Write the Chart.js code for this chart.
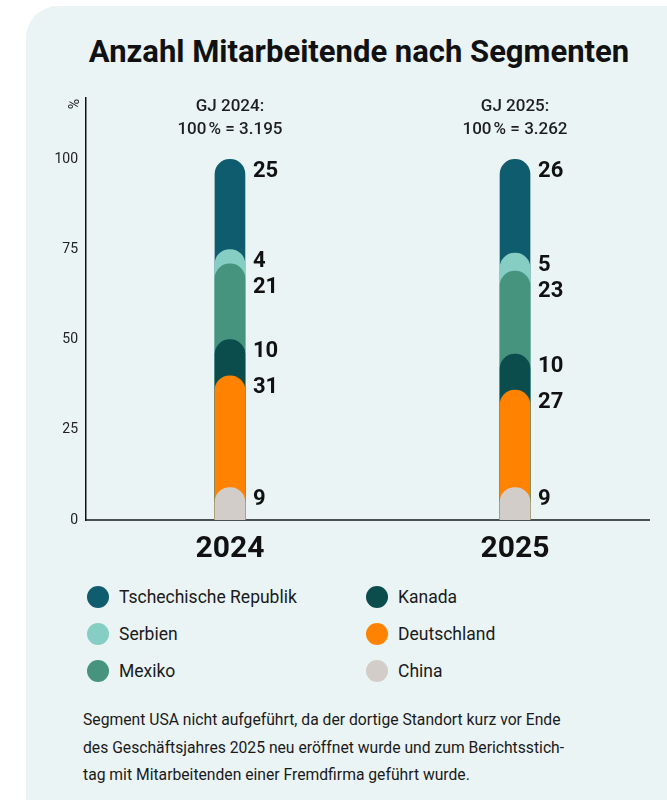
<!DOCTYPE html>
<html>
<head>
<meta charset="utf-8">
<script src="https://cdn.jsdelivr.net/npm/chart.js@4.4.1/dist/chart.umd.min.js"></script>
<style>
html,body{margin:0;padding:0;background:#fff;width:667px;height:800px;overflow:hidden;font-family:Roboto,"Open Sans",sans-serif;}
#card{position:absolute;left:26px;top:6px;width:680px;height:830px;border-radius:32px;background:#EAF4F5;}
#title{position:absolute;left:0;width:718px;top:32px;text-align:center;font:700 31px Roboto,sans-serif;color:#111;line-height:40px;white-space:nowrap;}
#wrap{position:absolute;left:0;top:0;width:667px;height:575px;}
.item{position:absolute;display:flex;align-items:center;font:400 17.5px Roboto,sans-serif;color:#1a1a1a;height:22px;white-space:nowrap;}
.dot{width:22px;height:22px;border-radius:50%;margin-right:10px;flex:none;}
#note{position:absolute;left:83px;top:706px;font:400 15.7px/27.7px Roboto,sans-serif;color:#1a1a1a;white-space:nowrap;}
</style>
</head>
<body>
<div id="card"></div>
<div id="title">Anzahl Mitarbeitende nach Segmenten</div>
<div id="wrap"><canvas id="c" width="667" height="575"></canvas></div>
<div id="legend"></div>
<div id="note">Segment USA nicht aufgeführt, da der dortige Standort kurz vor Ende<br>des Geschäftsjahres 2025 neu eröffnet wurde und zum Berichtsstich-<br>tag mit Mitarbeitenden einer Fremdfirma geführt wurde.</div>
<script>
// ---- data ----
const years = ['2024', '2025'];
const fiscalLabels = ['GJ 2024:', 'GJ 2025:'];
const totals = ['3.195', '3.262'];
const segments = ['Tschechische Republik', 'Serbien', 'Mexiko', 'Kanada', 'Deutschland', 'China'];
const share2024 = [25, 4, 21, 10, 31, 9];
const share2025 = [26, 5, 23, 10, 27, 9];
const yTicks = [0, 25, 50, 75, 100];
const colors = ['#0E5C6E', '#86CDC4', '#47947E', '#0B4D4C', '#FF8300', '#D3CDC9'];

const shares = [share2024, share2025];
const sum = a => a.reduce((s, v) => s + v, 0);

// legend (two columns)
const legend = document.getElementById('legend');
const legendCols = [[0, 1, 2], [3, 4, 5]];
legendCols.forEach((col, ci) => {
  col.forEach((si, ri) => {
    const d = document.createElement('div');
    d.className = 'item';
    d.style.left = (ci === 0 ? 87 : 366) + 'px';
    d.style.top = (586 + ri * 37) + 'px';
    d.innerHTML = '<span class="dot" style="background:' + colors[si] + '"></span>' + segments[si];
    legend.appendChild(d);
  });
});

// overlapping rounded bars: each segment bar spans from 0 to its cumulative top
const datasets = segments.map((name, i) => ({
  label: name,
  data: years.map((y, k) => ({ x: k, y: sum(shares[k].slice(i)) })),
  backgroundColor: colors[i],
  order: segments.length - i,
  grouped: false,
  barThickness: 30,
  borderRadius: { topLeft: 15, topRight: 15, bottomLeft: 0, bottomRight: 0 },
  borderSkipped: 'start'
}));

const labelPlugin = {
  id: 'labels',
  afterDatasetsDraw(chart) {
    const ctx = chart.ctx;
    const xs = chart.scales.x, ys = chart.scales.y;
    ctx.save();
    // header labels
    ctx.fillStyle = '#1e1e1e';
    ctx.textAlign = 'center';
    ctx.textBaseline = 'middle';
    ctx.font = '500 17px Roboto, sans-serif';
    years.forEach((y, k) => {
      const cx = xs.getPixelForValue(k);
      ctx.fillText(fiscalLabels[k], cx, 107);
      ctx.fillText('100\u202F% = ' + totals[k], cx, 130);
    });
    // value labels
    ctx.font = '700 22px Roboto, sans-serif';
    ctx.textAlign = 'left';
    ctx.fillStyle = '#111';
    years.forEach((y, k) => {
      const cx = xs.getPixelForValue(k) + 15 + 8;
      let prev = -Infinity;
      segments.forEach((s, i) => {
        const top = ys.getPixelForValue(sum(shares[k].slice(i)));
        let ly = Math.max(top + 12, prev + 26);
        ctx.fillText(String(shares[k][i]), cx, ly);
        prev = ly;
      });
    });
    // percent unit
    ctx.save();
    ctx.translate(75, 104);
    ctx.rotate(-Math.PI / 2);
    ctx.font = '400 14px Roboto, sans-serif';
    ctx.fillStyle = '#222';
    ctx.textAlign = 'center';
    ctx.fillText('%', 0, 0);
    ctx.restore();
    ctx.restore();
  }
};

new Chart(document.getElementById('c'), {
  type: 'bar',
  data: { datasets },
  options: {
    responsive: false,
    animation: false,
    events: [],
    layout: { padding: { left: 0, right: 18, top: 98, bottom: 0 } },
    plugins: { legend: { display: false }, tooltip: { enabled: false } },
    scales: {
      x: {
        type: 'linear',
        offset: false,
        min: -0.505,
        max: 1.47,
        afterBuildTicks: s => { s.ticks = years.map((_, i) => ({ value: i })); },
        afterFit: s => { s.height = 55; },
        ticks: {
          callback: v => years[v],
          font: { family: 'Roboto', weight: '700', size: 30 },
          color: '#111',
          padding: 11,
          maxRotation: 0,
          autoSkip: false
        },
        grid: { display: false, drawTicks: false },
        border: { display: true, color: '#4a4f4f', width: 2 }
      },
      y: {
        min: 0,
        max: 117,
        afterBuildTicks: s => { s.ticks = yTicks.map(v => ({ value: v })); },
        afterFit: s => { s.width = 86; },
        ticks: {
          font: { family: 'Roboto', size: 14 },
          color: '#222',
          padding: 8
        },
        grid: { display: false, drawTicks: false },
        border: { display: true, color: '#111', width: 1.5 }
      }
    }
  },
  plugins: [labelPlugin]
});
</script>
</body>
</html>
